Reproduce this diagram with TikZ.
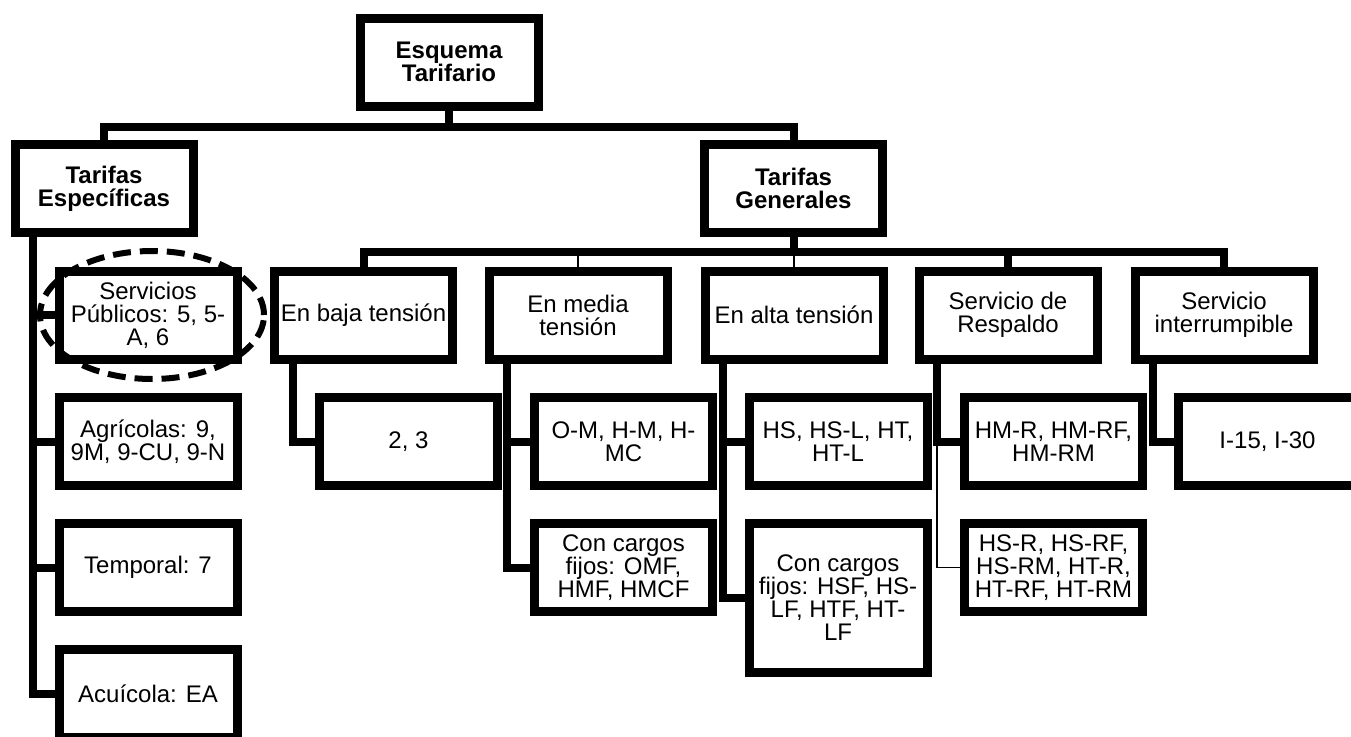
\documentclass[tikz,border=0pt]{standalone}
\usepackage{fontspec}
\setmainfont{Liberation Sans}
\begin{document}
\begin{tikzpicture}[x=1pt,y=-1pt,
  box/.style={draw=black,line width=9pt,fill=white,minimum width=178pt,minimum height=88pt,inner sep=0pt,align=center,
    font=\fontsize{24}{23}\selectfont},
  hbox/.style={box,font=\fontsize{24}{23}\selectfont\bfseries},
  conn/.style={draw=black,line width=8pt,line join=miter},
  thin/.style={draw=black,line width=1.2pt},
  ring/.style={draw=black,line width=6pt,dash pattern=on 18pt off 9pt}]
\useasboundingbox (0,0) rectangle (1351,736);
\clip (0,0) rectangle (1351,736);
\coordinate (bus1) at (0,127);
\coordinate (bus2) at (0,252);
% nodes
\node[hbox] (ET) at (449,62) {Esquema\\Tarifario};
\node[hbox] (TE) at (104,188.5) {Tarifas\\Específicas};
\node[hbox] (TG) at (793.5,188.5) {Tarifas\\Generales};
\node[box] (SP) at (148,315) {Servicios\\Públicos: 5, 5-\\A, 6};
\node[box] (AG) at (148,441.5) {Agrícolas: 9,\\9M, 9-CU, 9-N};
\node[box] (TM) at (148,567.5) {Temporal: 7};
\node[box] (AC) at (148,693.5) {Acuícola: EA};
\node[box] (BT) at (363.5,315) {En baja tensión};
\node[box] (MT) at (578,315) {En media\\tensión};
\node[box] (AT) at (794,315) {En alta tensión};
\node[box] (SR) at (1008,315) {Servicio de\\Respaldo};
\node[box] (SI) at (1224,315) {Servicio\\interrumpible};
\node[box] (B23) at (408.5,441.5) {2, 3};
\node[box] (OM) at (623.5,441.5) {O-M, H-M, H-\\MC};
\node[box] (OMF) at (623.5,567.5) {Con cargos\\fijos: OMF,\\HMF, HMCF};
\node[box] (HS) at (838,441.5) {HS, HS-L, HT,\\HT-L};
\node[box,minimum height=149pt] (HSF) at (838,598) {Con cargos\\fijos: HSF, HS-\\LF, HTF, HT-\\LF};
\node[box] (HMR) at (1053.5,441.5) {HM-R, HM-RF,\\HM-RM};
\node[box] (HSR) at (1053.5,567.5) {HS-R, HS-RF,\\HS-RM, HT-R,\\HT-RF, HT-RM};
\node[box] (I15) at (1267.5,441.5) {I-15, I-30};
% connectors
\draw[conn] (TE.north) -- (TE.north |- bus1) -| (TG.north);
\draw[conn] (ET.south) -- (ET.south |- bus1);
\draw[conn] (BT.north) -- (BT.north |- bus2) -| (SI.north);
\draw[conn] (TG.south) -- (TG.south |- bus2);
\draw[conn] (SR.north) -- (SR.north |- bus2);
\draw[thin] (MT.north) -- (MT.north |- bus2);
\draw[thin] (AT.north) -- (AT.north |- bus2);
\draw[conn] ([xshift=22.5pt]TE.south west) |- (SP.west);
\draw[conn] ([xshift=22.5pt]TE.south west) |- (AG.west);
\draw[conn] ([xshift=22.5pt]TE.south west) |- (TM.west);
\draw[conn] ([xshift=22.5pt]TE.south west) |- (AC.west);
\draw[conn] ([xshift=22.5pt]BT.south west) |- (B23.west);
\draw[conn] ([xshift=22.5pt]MT.south west) |- (OM.west);
\draw[conn] ([xshift=22.5pt]MT.south west) |- (OMF.west);
\draw[conn] ([xshift=22.5pt]AT.south west) |- (HS.west);
\draw[conn] ([xshift=22.5pt]AT.south west) |- (HSF.west);
\draw[thin] ([xshift=22.5pt]SR.south west) |- (HSR.west);
\draw[conn] ([xshift=22.5pt]SR.south west) |- (HMR.west);
\draw[conn] ([xshift=22.5pt]SI.south west) |- (I15.west);
% dashed ring
\draw[ring] (152,315) ellipse [x radius=112pt, y radius=64pt];
\end{tikzpicture}
\end{document}
